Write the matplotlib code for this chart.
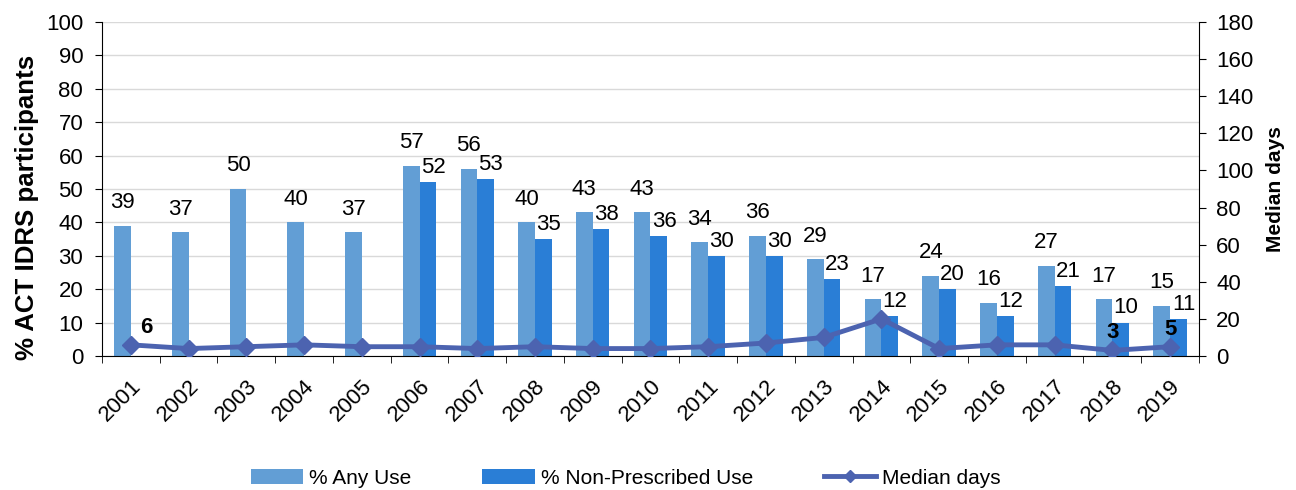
import numpy as np
import matplotlib as mpl
import matplotlib.pyplot as plt

# datos
years = ['2001', '2002', '2003', '2004', '2005', '2006', '2007', '2008', '2009', '2010',
         '2011', '2012', '2013', '2014', '2015', '2016', '2017', '2018', '2019']
any_use = [39, 37, 50, 40, 37, 57, 56, 40, 43, 43, 34, 36, 29, 17, 24, 16, 27, 17, 15]
non_presc = [None, None, None, None, None, 52, 53, 35, 38, 36, 30, 30, 23, 12, 20, 12, 21, 10, 11]
median_days = [6, 4, 5, 6, 5, 5, 4, 5, 4, 4, 5, 7, 10, 20, 4, 6, 6, 3, 5]
median_labels = {0: '6', 17: '3', 18: '5'}

c_any = '#629ED5'
c_non = '#2A7ED6'
c_line = '#4C63B0'

mpl.rcParams.update({'font.family': ['Liberation Sans', 'DejaVu Sans'],
                     'xtick.labelsize': 16, 'ytick.labelsize': 16})

fig = plt.figure(figsize=(12.96, 4.90), dpi=100)
ax = fig.add_axes([0.0787, 0.2735, 0.8464, 0.6817])
ax2 = ax.twinx()

x = np.arange(len(years))
w = 0.29
ax.bar(x - w / 2, any_use, w, color=c_any, label='% Any Use', zorder=2)
xn = [xi for xi, v in zip(x, non_presc) if v is not None]
vn = [v for v in non_presc if v is not None]
ax.bar(np.array(xn) + w / 2, vn, w, color=c_non, label='% Non-Prescribed Use', zorder=2)

for xi, v in zip(x, any_use):
    ax.annotate(str(v), (xi - w / 2, v), xytext=(0, 9), textcoords='offset points',
                ha='center', va='bottom', fontsize=16)
for xi, v in zip(xn, vn):
    ax.annotate(str(v), (xi + w / 2 + 0.09, v), xytext=(0, 3), textcoords='offset points',
                ha='center', va='bottom', fontsize=16)

ax2.plot(x, median_days, '-D', color=c_line, lw=3.5, markersize=9, label='Median days', zorder=3)
for i, t in median_labels.items():
    dx = 11 if i == 0 else 0
    ax2.annotate(t, (x[i], median_days[i]), xytext=(dx, 5), textcoords='offset points',
                 ha='center', va='bottom', fontsize=16, fontweight='bold')

ax.set_xlim(-0.5, len(years) - 0.5)
ax.set_ylim(0, 100)
ax.set_yticks(np.arange(0, 101, 10))
ax2.set_ylim(0, 180)
ax2.set_yticks(np.arange(0, 181, 20))

ax.set_xticks(x)
ax.set_xticklabels(years, rotation=45, ha='right', rotation_mode='anchor')
ax.set_xticks(np.arange(-0.5, len(years), 1), minor=True)
ax.tick_params(axis='x', which='major', length=0, pad=14)
ax.tick_params(axis='x', which='minor', length=5, direction='out', color='black')
ax.tick_params(axis='y', length=5, color='black', pad=8.5)
ax2.tick_params(axis='y', length=5, color='black', pad=7.5)

ax.yaxis.grid(True, color='#D9D9D9', lw=1)
ax.set_axisbelow(True)
for a in (ax, ax2):
    a.spines['top'].set_visible(False)
ax2.spines['left'].set_visible(False)
ax2.spines['bottom'].set_visible(False)
ax.spines['right'].set_visible(False)

ax.set_ylabel('% ACT IDRS participants', fontsize=18.6, fontweight='bold')
ax.yaxis.set_label_coords(-0.057, 0.446)
ax2.set_ylabel('Median days', fontsize=15.1, fontweight='bold')
ax2.yaxis.set_label_coords(1.061, 0.5)

h1, l1 = ax.get_legend_handles_labels()
h2, l2 = ax2.get_legend_handles_labels()
fig.legend(h1 + h2, l1 + l2, loc='center', bbox_to_anchor=(0.483, 0.024), ncol=3,
           frameon=False, fontsize=15, handlelength=2.5, handletextpad=0.3,
           columnspacing=3.4, markerscale=0.7)

fig.savefig('out.png', dpi=100)
